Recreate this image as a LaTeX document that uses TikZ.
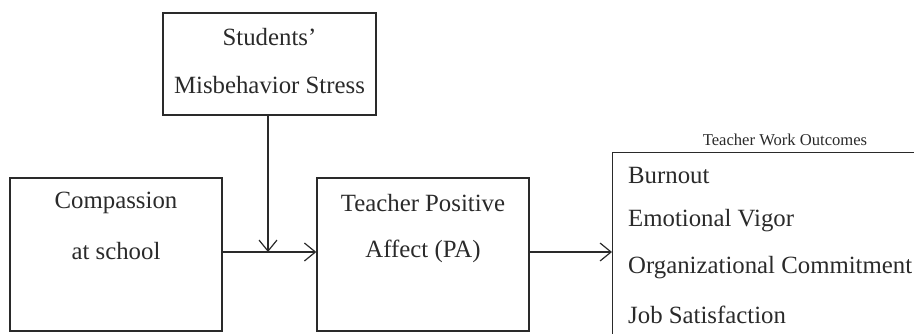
\documentclass[tikz,border=0pt]{standalone}
\usepackage{fontspec}
\setmainfont{Liberation Serif}
\usepackage{tikz}
\usetikzlibrary{arrows.meta}
\definecolor{inkgray}{HTML}{2A2A2A}
\tikzset{
	box/.style={draw=inkgray, line width=1.3pt, rectangle, inner sep=0pt},
	lbl/.style={text=inkgray, font=\fontsize{24.8}{28}\selectfont, inner sep=0pt},
	path/.style={draw=inkgray, line width=1.2pt, -{Straight Barb[length=11pt,width=18pt]}}
}
\begin{document}
\begin{tikzpicture}[x=1pt,y=-1pt]
	\useasboundingbox (0,0) rectangle (914,333);
	\clip (0,0) rectangle (914,333);
	\node[box, minimum width=213pt, minimum height=102pt] (stress) at (269.5,64) {};
	\node[lbl] (stress1) at (269.5,37) {Students'};
	\node[lbl] (stress2) at (269.5,85) {Misbehavior Stress};
	\node[box, minimum width=212pt, minimum height=153pt] (comp) at (116,254.5) {};
	\node[lbl] (comp1) at (116,203) {Compassion};
	\node[lbl] (comp2) at (116,251) {at school};
	\node[box, minimum width=212pt, minimum height=153pt] (pa) at (423,254.5) {};
	\node[lbl] (pa1) at (423,203) {Teacher Positive};
	\node[lbl] (pa2) at (423,251) {Affect (PA)};
	\node[box, anchor=north west, minimum width=340pt, minimum height=220pt] (out) at (612,152) {};
	\node[lbl, font=\fontsize{16.6}{19}\selectfont] (outtitle) at (785,140) {Teacher Work Outcomes};
	\node[lbl, anchor=west] (o1) at (628,175) {Burnout};
	\node[lbl, anchor=west] (o2) at (628,221) {Emotional Vigor};
	\node[lbl, anchor=west] (o3) at (628,268) {Organizational Commitment};
	\node[lbl, anchor=west] (o4) at (628,315) {Job Satisfaction};
	\coordinate (mid) at (268,252);
	\draw[path] (comp.east |- mid) -- (pa.west |- mid);
	\draw[path] (mid |- stress.south) -- (mid);
	\draw[path] (pa.east |- mid) -- (out.west |- mid);
\end{tikzpicture}
\end{document}
